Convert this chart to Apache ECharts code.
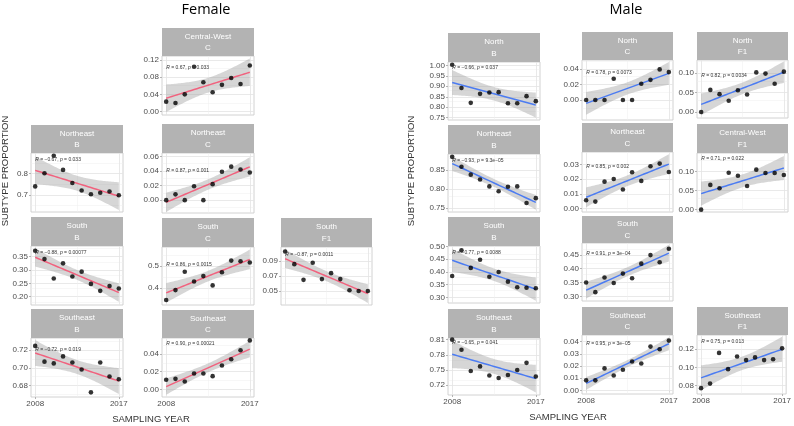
<!DOCTYPE html>
<html><head><meta charset="utf-8">
<script src="https://cdn.jsdelivr.net/npm/echarts@6/dist/echarts.min.js"></script>
<style>html,body{margin:0;padding:0;background:#fff}#c{width:794px;height:426px}</style>
</head><body><div id="c"></div>
<script>
// ---------- data ----------
const years = [2008, 2009, 2010, 2011, 2012, 2013, 2014, 2015, 2016, 2017];
const xTickLabels = ['2008', '2017'];

// Female
const fCentralWestC = [0.023, 0.020, 0.040, 0.104, 0.068, 0.045, 0.062, 0.078, 0.064, 0.107];
const fNortheastB   = [0.740, 0.802, 0.885, 0.818, 0.756, 0.721, 0.703, 0.710, 0.716, 0.698];
const fNortheastC   = [0.000, 0.008, 0.000, 0.019, 0.000, 0.022, 0.039, 0.046, 0.042, 0.038];
const fSouthB       = [0.372, 0.341, 0.268, 0.325, 0.276, 0.294, 0.248, 0.222, 0.240, 0.231];
const fSouthC       = [0.343, 0.389, 0.474, 0.429, 0.454, 0.411, 0.472, 0.526, 0.523, 0.517];
const fSouthF1      = [0.103, 0.086, 0.065, 0.088, 0.066, 0.074, 0.066, 0.051, 0.050, 0.050];
const fSoutheastB   = [0.725, 0.707, 0.705, 0.713, 0.706, 0.698, 0.672, 0.706, 0.690, 0.687];
const fSoutheastC   = [0.011, 0.012, 0.009, 0.018, 0.018, 0.015, 0.027, 0.034, 0.044, 0.055];
// Male
const mNorthB         = [1.003, 0.892, 0.821, 0.864, 0.870, 0.872, 0.819, 0.819, 0.853, 0.829];
const mNorthC         = [0.000, 0.000, 0.000, 0.0275, 0.000, 0.000, 0.021, 0.026, 0.0395, 0.036];
const mNorthF1        = [0.000, 0.057, 0.046, 0.029, 0.056, 0.045, 0.102, 0.099, 0.073, 0.104];
const mNortheastB     = [0.885, 0.859, 0.838, 0.825, 0.807, 0.794, 0.806, 0.807, 0.763, 0.776];
const mNortheastC     = [0.0057, 0.0048, 0.0184, 0.0202, 0.0130, 0.0248, 0.0189, 0.0289, 0.0307, 0.0250];
const mCentralWestF1  = [0.000, 0.065, 0.056, 0.097, 0.089, 0.062, 0.105, 0.096, 0.096, 0.091];
const mSouthB         = [0.384, 0.485, 0.416, 0.448, 0.381, 0.400, 0.362, 0.340, 0.338, 0.336];
const mSouthC         = [0.350, 0.315, 0.368, 0.348, 0.382, 0.365, 0.418, 0.449, 0.423, 0.472];
const mSoutheastB     = [0.810, 0.790, 0.748, 0.757, 0.739, 0.734, 0.740, 0.750, 0.764, 0.737];
const mSoutheastC     = [0.0082, 0.0082, 0.0180, 0.0122, 0.0169, 0.0237, 0.0220, 0.0359, 0.0337, 0.0408];
const mSoutheastF1    = [0.077, 0.082, 0.116, 0.098, 0.112, 0.108, 0.111, 0.108, 0.109, 0.121];

// y tick labels
const tkFCentralWestC = ['0.00', '0.04', '0.08', '0.12'];
const tkFNortheastB   = ['0.7', '0.8'];
const tkFNortheastC   = ['0.00', '0.02', '0.04', '0.06'];
const tkFSouthB       = ['0.20', '0.25', '0.30', '0.35'];
const tkFSouthC       = ['0.4', '0.5'];
const tkFSouthF1      = ['0.05', '0.07', '0.09'];
const tkFSoutheastB   = ['0.68', '0.70', '0.72'];
const tkFSoutheastC   = ['0.00', '0.02', '0.04'];
const tkMNorthB       = ['0.75', '0.80', '0.85', '0.90', '0.95', '1.00'];
const tkMNorthC       = ['0.00', '0.02', '0.04'];
const tkMNorthF1      = ['0.00', '0.05', '0.10'];
const tkMNortheastB   = ['0.75', '0.80', '0.85'];
const tkMNortheastC   = ['0.00', '0.01', '0.02', '0.03'];
const tkMCentralWestF1= ['0.00', '0.05', '0.10'];
const tkMSouthB       = ['0.30', '0.35', '0.40', '0.45', '0.50'];
const tkMSouthC       = ['0.30', '0.35', '0.40', '0.45'];
const tkMSoutheastB   = ['0.72', '0.75', '0.78', '0.81'];
const tkMSoutheastC   = ['0.00', '0.01', '0.02', '0.03', '0.04'];
const tkMSoutheastF1  = ['0.08', '0.10', '0.12'];

const M = '\u2212';
// ---------- layout / style ----------
const F_COLOR = '#F1627E', M_COLOR = '#4C7CF2';
const FONT = 'Liberation Sans';
// box: [left, right, stripTop, panelTop, panelBottom]
const panels = [
  {region:'Central-West', sub:'C',  v:fCentralWestC, tk:tkFCentralWestC, r:'0.67', p:'0.033', c:F_COLOR, box:[162,254,28,56,115], yr:[-0.008,0.129], dy:12, xl:false},
  {region:'Northeast', sub:'B',     v:fNortheastB,   tk:tkFNortheastB,   r:M+'0.67', p:'0.033', c:F_COLOR, box:[31,123,125,153,212], yr:[0.619,0.898], dy:7, xl:false},
  {region:'Northeast', sub:'C',     v:fNortheastC,   tk:tkFNortheastC,   r:'0.87', p:'0.001', c:F_COLOR, box:[162,254,124,153,213], yr:[-0.0176,0.0647], dy:17.5, xl:false},
  {region:'South', sub:'B',         v:fSouthB,       tk:tkFSouthB,       r:M+'0.88', p:'0.00077', c:F_COLOR, box:[31,123,217,246,305], yr:[0.169,0.39], dy:7, xl:false},
  {region:'South', sub:'C',         v:fSouthC,       tk:tkFSouthC,       r:'0.86', p:'0.0015', c:F_COLOR, box:[162,254,218,247,305], yr:[0.32,0.589], dy:18, xl:false},
  {region:'South', sub:'F1',        v:fSouthF1,      tk:tkFSouthF1,      r:M+'0.87', p:'0.0011', c:F_COLOR, box:[281,372,218,247,305], yr:[0.0313,0.109], dy:8, xl:false},
  {region:'Southeast', sub:'B',     v:fSoutheastB,   tk:tkFSoutheastB,   r:M+'0.72', p:'0.019', c:F_COLOR, box:[31,123,309,338,397], yr:[0.6667,0.734], dy:12, xl:true},
  {region:'Southeast', sub:'C',     v:fSoutheastC,   tk:tkFSoutheastC,   r:'0.90', p:'0.00021', c:F_COLOR, box:[162,254,310,338,397], yr:[-0.0083,0.0577], dy:6, xl:true},

  {region:'North', sub:'B',         v:mNorthB,       tk:tkMNorthB,       r:M+'0.66', p:'0.037', c:M_COLOR, box:[448,540,33,62,120], yr:[0.739,1.016], dy:6, xl:false},
  {region:'North', sub:'C',         v:mNorthC,       tk:tkMNorthC,       r:'0.78', p:'0.0073', c:M_COLOR, box:[582,673,32,60,120], yr:[-0.0258,0.0516], dy:13, xl:false},
  {region:'North', sub:'F1',        v:mNorthF1,      tk:tkMNorthF1,      r:'0.82', p:'0.0034', c:M_COLOR, box:[697,788,32,60,118], yr:[-0.0154,0.134], dy:16, xl:false},
  {region:'Northeast', sub:'B',     v:mNortheastB,   tk:tkMNortheastB,   r:M+'0.93', p:'9.3e'+M+'05', c:M_COLOR, box:[448,540,125,154,212], yr:[0.7394,0.8925], dy:7, xl:false},
  {region:'Northeast', sub:'C',     v:mNortheastC,   tk:tkMNortheastC,   r:'0.85', p:'0.002', c:M_COLOR, box:[582,673,123,152,212], yr:[-0.0023,0.0386], dy:15, xl:false},
  {region:'Central-West', sub:'F1', v:mCentralWestF1,tk:tkMCentralWestF1,r:'0.71', p:'0.022', c:M_COLOR, box:[697,788,124,153,212], yr:[-0.0062,0.1487], dy:6, xl:false},
  {region:'South', sub:'B',         v:mSouthB,       tk:tkMSouthB,       r:M+'0.77', p:'0.0088', c:M_COLOR, box:[448,540,217,246,303], yr:[0.278,0.502], dy:7, xl:false},
  {region:'South', sub:'C',         v:mSouthC,       tk:tkMSouthC,       r:'0.91', p:'3e'+M+'04', c:M_COLOR, box:[582,673,216,243,301], yr:[0.283,0.4927], dy:10.5, xl:false},
  {region:'Southeast', sub:'B',     v:mSoutheastB,   tk:tkMSoutheastB,   r:M+'0.65', p:'0.041', c:M_COLOR, box:[448,540,309,338,395], yr:[0.7003,0.8133], dy:5, xl:true},
  {region:'Southeast', sub:'C',     v:mSoutheastC,   tk:tkMSoutheastC,   r:'0.95', p:'3e'+M+'05', c:M_COLOR, box:[582,673,307,335,394], yr:[-0.003,0.0454], dy:9, xl:true},
  {region:'Southeast', sub:'F1',    v:mSoutheastF1,  tk:tkMSoutheastF1,  r:'0.75', p:'0.013', c:M_COLOR, box:[697,788,307,335,394], yr:[0.0705,0.1358], dy:7, xl:true}
];

const XMIN = 2007.55, XMAX = 2017.45;
const T975 = 2.306; // t quantile, 8 df

function lmBand(xs, ys) {
  const n = xs.length;
  const mx = xs.reduce((a, b) => a + b, 0) / n;
  const my = ys.reduce((a, b) => a + b, 0) / n;
  let sxx = 0, sxy = 0;
  for (let i = 0; i < n; i++) { sxx += (xs[i] - mx) ** 2; sxy += (xs[i] - mx) * (ys[i] - my); }
  const b = sxy / sxx, a = my - b * mx;
  let sse = 0;
  for (let i = 0; i < n; i++) sse += (ys[i] - (a + b * xs[i])) ** 2;
  const s = Math.sqrt(sse / (n - 2));
  const fit = [], lo = [], hi = [];
  const K = 60;
  for (let k = 0; k <= K; k++) {
    const x = xs[0] + (xs[n - 1] - xs[0]) * k / K;
    const se = s * Math.sqrt(1 / n + (x - mx) ** 2 / sxx);
    const yh = a + b * x;
    fit.push([x, yh]); lo.push([x, yh - T975 * se]); hi.push([x, yh + T975 * se]);
  }
  return {fit, lo, hi};
}

const grids = [], xAxes = [], yAxes = [], series = [], graphics = [];
const MAJ = {color: '#E3E3E3', width: 0.8, type: 'solid'};
const MIN = {color: '#EFEFEF', width: 0.5, type: 'solid'};

panels.forEach((pn, i) => {
  const [L, R, ST, PT, PB] = pn.box;
  const W = R - L, H = PB - PT;
  grids.push({left: L, top: PT, width: W, height: H, show: true, backgroundColor: '#fff', borderColor: '#C6C6C6', borderWidth: 0.8});
  const xt = xTickLabels.map(Number);
  xAxes.push({gridIndex: i, type: 'value', min: XMIN, max: XMAX,
    axisLine: {show: false}, splitLine: {show: false},
    axisTick: {show: pn.xl, customValues: xt, length: 2, lineStyle: {color: '#B3B3B3'}},
    axisLabel: {show: pn.xl, customValues: xt, formatter: v => String(Math.round(v)), fontSize: 8, color: '#4D4D4D', fontFamily: FONT, margin: 3}
  });
  const yt = pn.tk.map(Number);
  const dec = (pn.tk[0].split('.')[1] || '').length;
  yAxes.push({gridIndex: i, type: 'value', min: pn.yr[0], max: pn.yr[1],
    axisLine: {show: false}, splitLine: {show: false},
    axisTick: {show: true, customValues: yt, length: 2, lineStyle: {color: '#B3B3B3'}},
    axisLabel: {customValues: yt, formatter: v => v.toFixed(dec), fontSize: 8, color: '#4D4D4D', fontFamily: FONT, margin: 3}
  });
  // grid lines (markLine z defaults to 5 -> keep data series above)
  const step = yt.length > 1 ? yt[1] - yt[0] : 0.1;
  const ml = [];
  yt.forEach(v => ml.push({yAxis: v, lineStyle: MAJ}));
  for (let v = yt[0] - step / 2; v <= yt[yt.length - 1] + step / 2 + 1e-9; v += step) {
    if (v > pn.yr[0] && v < pn.yr[1]) ml.push({yAxis: v, lineStyle: MIN});
  }
  ml.push({xAxis: 2008, lineStyle: MAJ}, {xAxis: 2017, lineStyle: MAJ}, {xAxis: 2012.5, lineStyle: MIN});
  series.push({type: 'line', xAxisIndex: i, yAxisIndex: i, data: [[2008, pn.yr[0]]], showSymbol: false, symbol: 'none',
    lineStyle: {opacity: 0}, silent: true, z: 1, animation: false,
    markLine: {silent: true, symbol: 'none', label: {show: false}, animation: false, z: 2, data: ml}});
  // confidence band (custom polygon through the axes' scales)
  const bd = lmBand(years, pn.v);
  series.push({type: 'custom', coordinateSystem: 'cartesian2d', xAxisIndex: i, yAxisIndex: i,
    data: [[years[0], pn.v[0]]], silent: true, z: 6, animation: false, clip: true,
    renderItem: (params, api) => {
      const pts = bd.lo.map(p => api.coord(p)).concat(bd.hi.slice().reverse().map(p => api.coord(p)));
      const cs = params.coordSys;
      return {type: 'polygon', shape: {points: pts}, style: {fill: 'rgba(153,153,153,0.4)'},
        clipPath: {type: 'rect', shape: {x: cs.x, y: cs.y, width: cs.width, height: cs.height}}};
    }});
  series.push({type: 'line', xAxisIndex: i, yAxisIndex: i, data: bd.fit, symbol: 'none', showSymbol: false,
    lineStyle: {color: pn.c, width: 1.5}, silent: true, z: 8, animation: false});
  series.push({type: 'scatter', xAxisIndex: i, yAxisIndex: i, data: years.map((y, k) => [y, pn.v[k]]),
    symbolSize: 4.6, itemStyle: {color: '#000'}, silent: true, z: 10, animation: false, clip: false});
  // strip
  const SH = PT - ST;
  graphics.push({type: 'rect', shape: {x: L, y: ST, width: W, height: SH}, style: {fill: '#B3B3B3'}, silent: true});
  graphics.push({type: 'text', x: L + W / 2, y: ST + SH * 0.3, style: {text: pn.region, fill: '#fff', fontSize: 8, fontFamily: FONT, align: 'center', verticalAlign: 'middle'}, silent: true});
  graphics.push({type: 'text', x: L + W / 2, y: ST + SH * 0.72, style: {text: pn.sub, fill: '#fff', fontSize: 8, fontFamily: FONT, align: 'center', verticalAlign: 'middle'}, silent: true});
  // annotation
  const ax = L + (2008 - XMIN) / (XMAX - XMIN) * W;
  graphics.push({type: 'text', x: ax, y: PT + pn.dy, z: 100, style: {
    text: '{i|R} = ' + pn.r + ', {i|p} = ' + pn.p, fill: '#333', fontSize: 5, fontFamily: FONT,
    align: 'left', verticalAlign: 'middle', rich: {i: {fontStyle: 'italic', fontSize: 5, fontFamily: FONT, fill: '#333'}}}, silent: true});
});

// titles
graphics.push({type: 'text', x: 206, y: 10, style: {text: 'Female', fill: '#000', fontSize: 14.5, fontFamily: 'Open Sans', align: 'center', verticalAlign: 'middle'}});
graphics.push({type: 'text', x: 626, y: 10, style: {text: 'Male', fill: '#000', fontSize: 14.5, fontFamily: 'Open Sans', align: 'center', verticalAlign: 'middle'}});
graphics.push({type: 'text', x: 151, y: 419, style: {text: 'SAMPLING YEAR', fill: '#333', fontSize: 9.5, fontFamily: FONT, align: 'center', verticalAlign: 'middle'}});
graphics.push({type: 'text', x: 568, y: 417, style: {text: 'SAMPLING YEAR', fill: '#333', fontSize: 9.5, fontFamily: FONT, align: 'center', verticalAlign: 'middle'}});
graphics.push({type: 'text', x: 5, y: 171, rotation: Math.PI / 2, style: {text: 'SUBTYPE PROPORTION', fill: '#333', fontSize: 9.5, fontFamily: FONT, align: 'center', verticalAlign: 'middle'}});
graphics.push({type: 'text', x: 411, y: 171, rotation: Math.PI / 2, style: {text: 'SUBTYPE PROPORTION', fill: '#333', fontSize: 9.5, fontFamily: FONT, align: 'center', verticalAlign: 'middle'}});

const chart = echarts.init(document.getElementById('c'), null, {renderer: 'canvas'});
chart.setOption({
  animation: false,
  backgroundColor: '#fff',
  grid: grids, xAxis: xAxes, yAxis: yAxes, series: series,
  graphic: {elements: graphics}
});
</script></body></html>
